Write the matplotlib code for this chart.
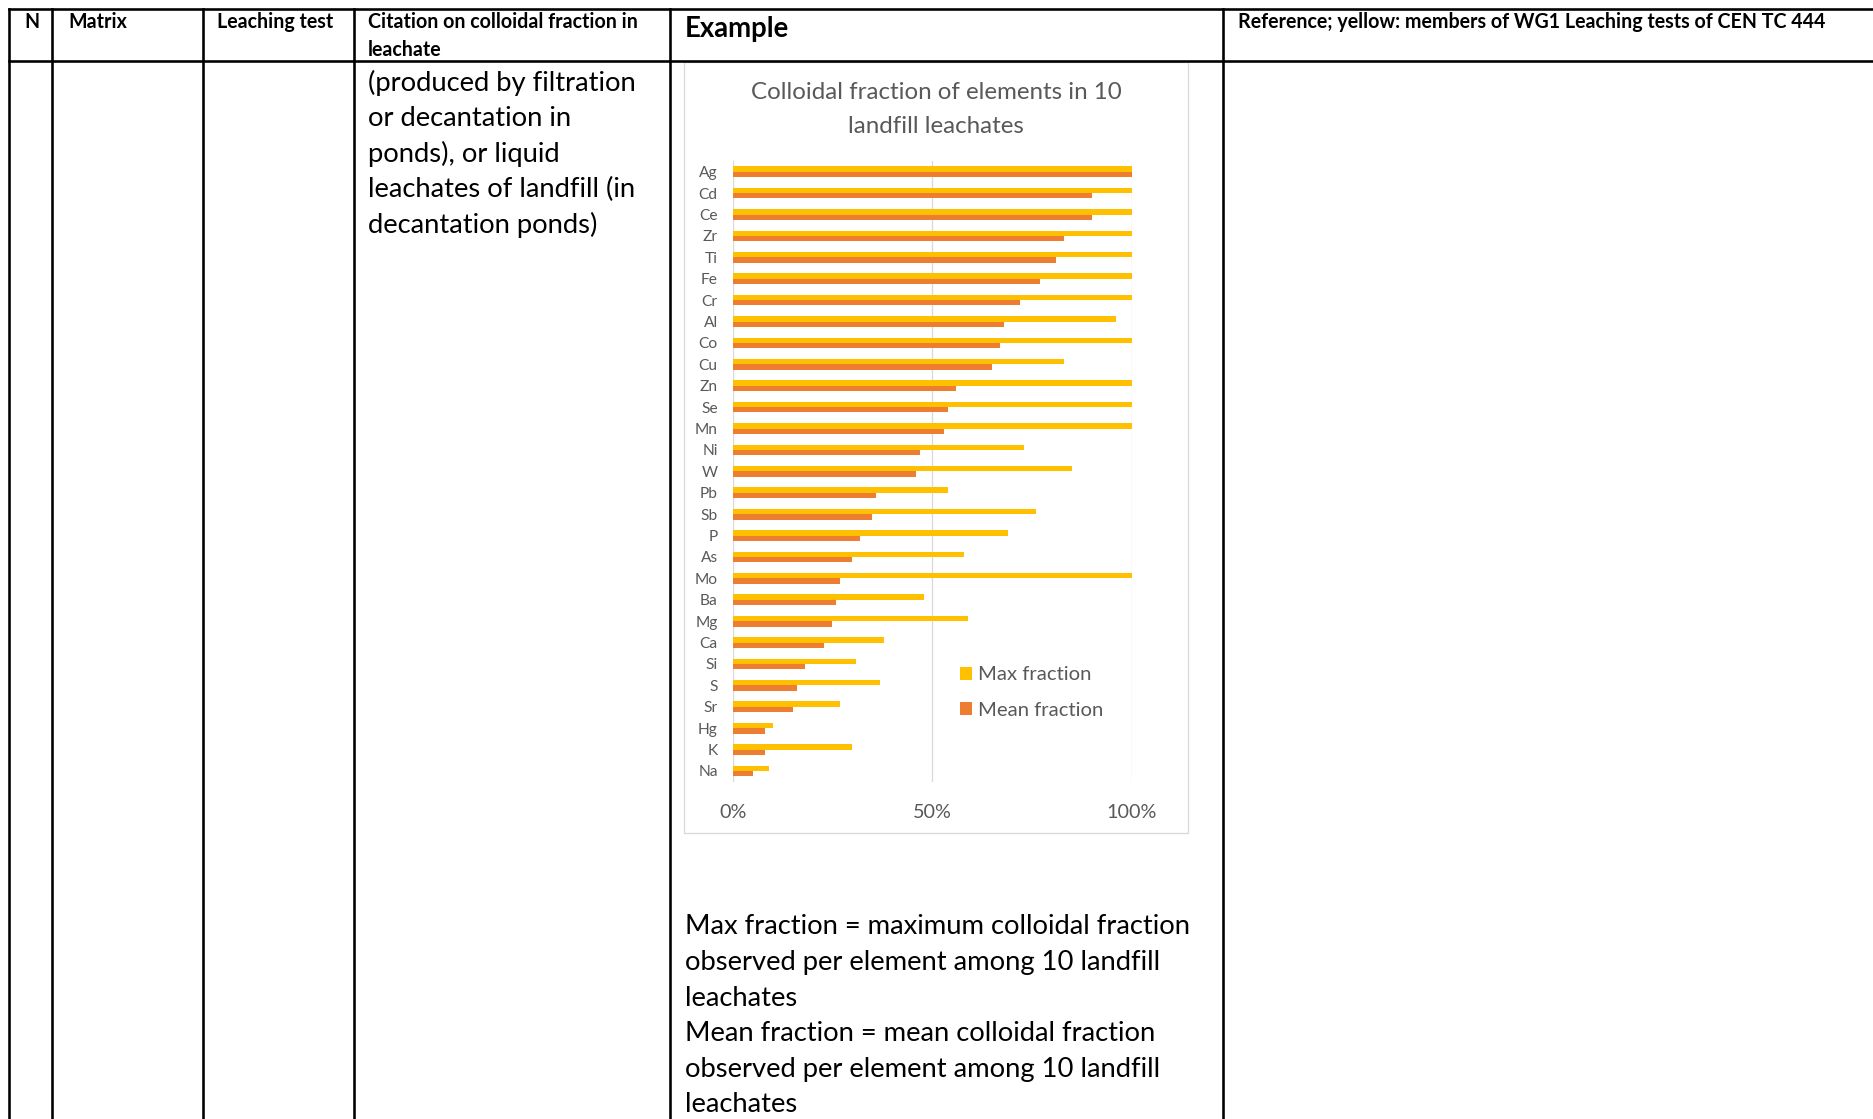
import matplotlib
matplotlib.use("Agg")
import matplotlib.pyplot as plt
from matplotlib.patches import Rectangle
import numpy as np

# ---- data -------------------------------------------------------------
elements = ["Ag", "Cd", "Ce", "Zr", "Ti", "Fe", "Cr", "Al", "Co", "Cu",
            "Zn", "Se", "Mn", "Ni", "W", "Pb", "Sb", "P", "As", "Mo",
            "Ba", "Mg", "Ca", "Si", "S", "Sr", "Hg", "K", "Na"]
max_fraction = [100, 100, 100, 100, 100, 100, 100, 96, 100, 83,
                100, 100, 100, 73, 85, 54, 76, 69, 58, 100,
                48, 59, 38, 31, 37, 27, 10, 30, 9]
mean_fraction = [100, 90, 90, 83, 81, 77, 72, 68, 67, 65,
                 56, 54, 53, 47, 46, 36, 35, 32, 30, 27,
                 26, 25, 23, 18, 16, 15, 8, 8, 5]
tick_values = [0, 50, 100]
tick_labels = ["0%", "50%", "100%"]
series_names = ["Max fraction", "Mean fraction"]
chart_title = ["Colloidal fraction of elements in 10", "landfill leachates"]

header_labels = [["N"], ["Matrix"], ["Leaching test"],
                 ["Citation on colloidal fraction in", "leachate"],
                 ["Example"],
                 ["Reference; yellow: members of WG1 Leaching tests of CEN TC 444"]]
citation_lines = ["(produced by filtration", "or decantation in",
                  "ponds), or liquid", "leachates of landfill (in",
                  "decantation ponds)"]
note_lines = ["Max fraction = maximum colloidal fraction",
              "observed per element among 10 landfill",
              "leachates",
              "Mean fraction = mean colloidal fraction",
              "observed per element among 10 landfill",
              "leachates"]

# ---- page setup -------------------------------------------------------
W, H, DPI = 1874, 1119, 100
plt.rcParams["font.family"] = ["Lato", "DejaVu Sans"]


def pt(px):
    """pixels -> points"""
    return px * 72.0 / DPI


fig = plt.figure(figsize=(W / DPI, H / DPI), dpi=DPI)
fig.patch.set_facecolor("white")
page = fig.add_axes([0, 0, 1, 1])
page.set_xlim(0, W)
page.set_ylim(H, 0)
page.axis("off")

# table rules
rule = dict(color="black", lw=pt(2.6), solid_capstyle="projecting")
col_edges = [9, 52, 203, 354, 670, 1223]
top_y, head_y = 8.5, 61
for x in col_edges:
    page.plot([x, x], [top_y, H + 5], **rule)
for y in (top_y, head_y):
    page.plot([col_edges[0], W + 5], [y, y], **rule)

# header row
head_x = [24, 68, 217, 368, 685, 1238]
for x, lines in zip(head_x, header_labels):
    if lines == ["Example"]:
        page.text(x, 36.5, lines[0], fontsize=19.8, fontweight="bold",
                  ha="left", va="baseline")
    else:
        for k, line in enumerate(lines):
            page.text(x, 28.5 + k * 27.5, line, fontsize=14.1,
                      fontweight="bold", ha="left", va="baseline")

# body text
for i, line in enumerate(citation_lines):
    page.text(368, 90.7 + i * 35.6, line, fontsize=19.7,
              ha="left", va="baseline")
for i, line in enumerate(note_lines):
    page.text(685, 934.5 + i * 35.6, line, fontsize=19.7,
              ha="left", va="baseline")

# chart frame and title
page.add_patch(Rectangle((684, 62), 504, 771, facecolor="white",
                         edgecolor="#D9D9D9", lw=pt(1.3), zorder=1))
for k, line in enumerate(chart_title):
    page.text(936, 99.2 + k * 34, line, fontsize=17.4, color="#595959",
              ha="center", va="baseline")

# ---- bar chart --------------------------------------------------------
x0, y0, x1, y1 = 732.7, 161, 1131.7, 781.7
ax = fig.add_axes([x0 / W, 1 - y1 / H, (x1 - x0) / W, (y1 - y0) / H])
ax.set_facecolor("none")

pos = np.arange(len(elements))
bar_h = 0.25
ax.barh(pos - bar_h / 2, max_fraction, height=bar_h, color="#FFC000",
        label=series_names[0], zorder=3)
ax.barh(pos + bar_h / 2, mean_fraction, height=bar_h, color="#ED7D31",
        label=series_names[1], zorder=3)

ax.set_xlim(0, 100)
ax.set_ylim(len(elements) - 0.5, -0.5)
ax.set_xticks(tick_values, tick_labels)
ax.set_yticks(pos, elements)
ax.xaxis.grid(True, color="#D9D9D9", lw=pt(1.3))
ax.set_axisbelow(True)
for s in ax.spines.values():
    s.set_visible(False)
ax.tick_params(axis="x", length=0, pad=pt(22.5), labelsize=14.2,
               labelcolor="#595959")
ax.tick_params(axis="y", length=0, pad=pt(15), labelsize=11.2,
               labelcolor="#595959")

leg = ax.legend(loc="upper left", bbox_to_anchor=(960 / W, 1 - 666.5 / H),
                bbox_transform=fig.transFigure, frameon=False,
                fontsize=14.6, handlelength=0.6, handleheight=0.6,
                handletextpad=0.3, labelspacing=0.9, borderpad=0,
                borderaxespad=0)
for t in leg.get_texts():
    t.set_color("#595959")

fig.savefig("out.png", dpi=DPI, facecolor="white")
